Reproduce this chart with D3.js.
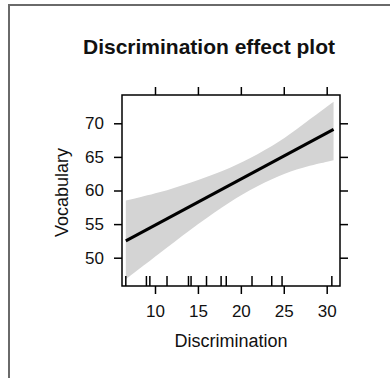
<!DOCTYPE html>
<html>
<head>
<meta charset="utf-8">
<script src="https://cdn.jsdelivr.net/npm/d3@7"></script>
<style>
  body { margin: 0; background: #fff; }
  svg { display: block; }
</style>
</head>
<body>
<div id="plot-container"></div>
<script>
// values
var xTicks = [10, 15, 20, 25, 30];
var yTicks = [50, 55, 60, 65, 70];
var rugX = [6.6, 9.0, 9.4, 11.4, 13.9, 14.2, 16.0, 17.7, 18.3, 21.3, 23.6, 24.8, 30.6];
var fitX = [6.6, 30.8];
var fitY = [52.5, 69.1];
var bandX = [6.6, 10.6, 14.0, 18.0, 21.0, 24.6, 27.0, 30.8];
var bandUpper = [58.5, 59.7, 61.1, 62.9, 64.7, 67.3, 69.6, 73.2];
var bandLower = [46.8, 50.7, 54.1, 57.7, 60.1, 62.3, 63.4, 64.5];

var full_width = 390, full_height = 378;
// plot box edges (window.top is read-only, so no "top" here)
var boxLeft = 122, boxRight = 340, boxTop = 95, boxBottom = 286;

var canvas = d3.select("#plot-container").append("svg")
    .attr("width", full_width)
    .attr("height", full_height)
    .style("font-family", "'Liberation Sans', Arial, sans-serif");

var x = d3.scaleLinear().domain([6.156, 31.55]).range([boxLeft, boxRight]);
var y = d3.scaleLinear().domain([45.79, 74.21]).range([boxBottom, boxTop]);

// outer frame (only top and left edges show)
canvas.append("path")
    .attr("d", "M9,378V5H390")
    .attr("fill", "none")
    .attr("stroke", "#6a6a6a")
    .attr("stroke-width", 2);

canvas.append("text")
    .attr("x", 209).attr("y", 54)
    .attr("text-anchor", "middle")
    .style("font-weight", "bold")
    .style("font-size", "21px")
    .attr("fill", "#111")
    .text("Discrimination effect plot");

var band = bandX.map(function (d, i) { return { x: d, lo: bandLower[i], hi: bandUpper[i] }; });

canvas.append("path")
    .datum(band)
    .attr("fill", "#d4d4d4")
    .attr("d", d3.area()
        .curve(d3.curveBasis)
        .x(function (d) { return x(d.x); })
        .y0(function (d) { return y(d.lo); })
        .y1(function (d) { return y(d.hi); }));

canvas.append("path")
    .datum(fitX.map(function (d, i) { return [d, fitY[i]]; }))
    .attr("fill", "none")
    .attr("stroke", "#000")
    .attr("stroke-width", 3)
    .attr("d", d3.line()
        .x(function (d) { return x(d[0]); })
        .y(function (d) { return y(d[1]); }));

// rug along the bottom
canvas.selectAll("line.rug")
    .data(rugX)
    .enter().append("line")
    .attr("class", "rug")
    .attr("x1", function (d) { return x(d); })
    .attr("x2", function (d) { return x(d); })
    .attr("y1", boxBottom)
    .attr("y2", boxBottom - 10)
    .attr("stroke", "#000")
    .attr("stroke-width", 1.5);

function styleAxis(g, showLabels) {
    g.select(".domain").remove();
    g.selectAll(".tick line").attr("stroke", "#000").attr("stroke-width", 1.5);
    g.selectAll(".tick text")
        .attr("fill", "#111")
        .style("font-size", "17px")
        .style("font-family", "'Liberation Sans', Arial, sans-serif");
    if (!showLabels) g.selectAll(".tick text").remove();
}

canvas.append("g")
    .attr("transform", "translate(0," + boxBottom + ")")
    .call(d3.axisBottom(x).tickValues(xTicks).tickSize(8).tickPadding(11))
    .call(styleAxis, true);
canvas.append("g")
    .attr("transform", "translate(0," + boxTop + ")")
    .call(d3.axisTop(x).tickValues(xTicks).tickSize(8))
    .call(styleAxis, false);
canvas.append("g")
    .attr("transform", "translate(" + boxLeft + ",0)")
    .call(d3.axisLeft(y).tickValues(yTicks).tickSize(8).tickPadding(10))
    .call(styleAxis, true);
canvas.append("g")
    .attr("transform", "translate(" + boxRight + ",0)")
    .call(d3.axisRight(y).tickValues(yTicks).tickSize(8))
    .call(styleAxis, false);

canvas.append("rect")
    .attr("x", boxLeft).attr("y", boxTop)
    .attr("width", boxRight - boxLeft).attr("height", boxBottom - boxTop)
    .attr("fill", "none")
    .attr("stroke", "#000")
    .attr("stroke-width", 1.5);

canvas.append("text")
    .attr("x", (boxLeft + boxRight) / 2).attr("y", 347)
    .attr("text-anchor", "middle")
    .style("font-size", "18px")
    .attr("fill", "#111")
    .text("Discrimination");

canvas.append("text")
    .attr("transform", "translate(68," + ((boxTop + boxBottom) / 2 + 2) + ") rotate(-90)")
    .attr("text-anchor", "middle")
    .style("font-size", "18px")
    .attr("fill", "#111")
    .text("Vocabulary");
</script>
</body>
</html>
